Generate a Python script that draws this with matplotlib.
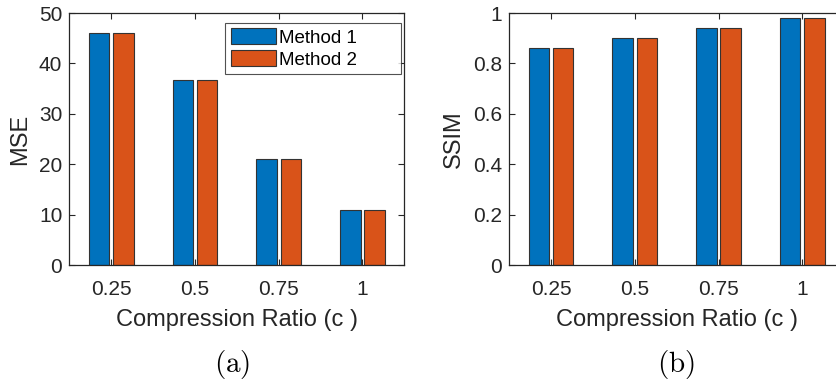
import numpy as np
import matplotlib.pyplot as plt

# data
ratios = ['0.25', '0.5', '0.75', '1']
mse_m1 = [46.0, 36.8, 21.1, 10.9]
mse_m2 = [46.0, 36.8, 21.1, 10.9]
ssim_m1 = [0.86, 0.90, 0.94, 0.98]
ssim_m2 = [0.86, 0.90, 0.94, 0.98]

blue = '#0072BD'
orange = '#D95319'
dark = '#262626'

plt.rcParams['font.family'] = ['Liberation Sans', 'DejaVu Sans']
plt.rcParams['mathtext.fontset'] = 'cm'

fig = plt.figure(figsize=(8.37, 3.87), dpi=100)
ax1 = fig.add_axes([0.0828, 0.3152, 0.4003, 0.6512])
ax2 = fig.add_axes([0.6083, 0.3152, 0.4003, 0.6512])

x = np.arange(1, len(ratios) + 1)
w = 0.245
off = 0.145


def draw(ax, v1, v2, ylim, yticks, ylabel):
    ax.bar(x - off, v1, w, color=blue, edgecolor='#333333', linewidth=0.8, label='Method 1')
    ax.bar(x + off, v2, w, color=orange, edgecolor='#333333', linewidth=0.8, label='Method 2')
    ax.set_xlim(0.5, 4.5)
    ax.set_ylim(*ylim)
    ax.set_xticks(x)
    ax.set_xticklabels(ratios)
    ax.set_yticks(yticks)
    ax.tick_params(direction='in', top=True, right=True, length=4, width=0.8,
                   labelsize=15, colors=dark)
    ax.tick_params(axis='x', pad=11)
    ax.tick_params(axis='y', pad=5)
    for s in ax.spines.values():
        s.set_color(dark)
        s.set_linewidth(0.9)
    ax.set_ylabel(ylabel, fontsize=17, color=dark, labelpad=6)
    ax.set_xlabel('Compression Ratio (c )', fontsize=17, color=dark, labelpad=7)


draw(ax1, mse_m1, mse_m2, (0, 50), [0, 10, 20, 30, 40, 50], 'MSE')
draw(ax2, ssim_m1, ssim_m2, (0, 1), [0, 0.2, 0.4, 0.6, 0.8, 1.0], 'SSIM')
ax2.set_yticklabels(['0', '0.2', '0.4', '0.6', '0.8', '1'])

leg = ax1.legend(loc='upper left', bbox_to_anchor=(0.465, 0.759, 0.525, 0.202),
                 mode='expand', fontsize=13.5, frameon=True, fancybox=False,
                 handlelength=2.4, handleheight=0.9, handletextpad=0.15,
                 labelspacing=0.2, borderpad=0.3, borderaxespad=0.0)
leg.get_frame().set_edgecolor(dark)
leg.get_frame().set_linewidth(0.8)

fig.text(0.2775, 0.058, r'$\mathrm{(a)}$', fontsize=21, ha='center', va='center')
fig.text(0.8070, 0.058, r'$\mathrm{(b)}$', fontsize=21, ha='center', va='center')

fig.savefig('out.png', dpi=100)
